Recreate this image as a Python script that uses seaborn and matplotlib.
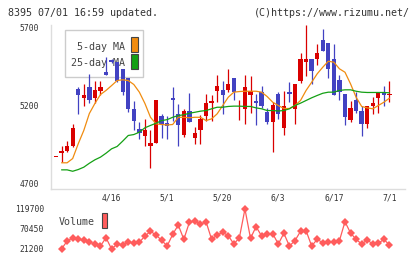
import numpy as np
import matplotlib
matplotlib.use("Agg")
import matplotlib.pyplot as plt
import seaborn as sns
from matplotlib.patches import Rectangle

sns.set_style("white")
plt.rcParams['font.family'] = ['DejaVu Sans Mono', 'DejaVu Sans']

# daily candles (index 0 = 4/2 ... 60 = 7/1)
opens = [4875, 4896, 4913, 4941, 5306, 5249, 5321, 5249, 5291, 5412,
         5491, 5480, 5434, 5376, 5179, 5049, 5003, 4939, 4960, 5134,
         5087, 5251, 5147, 5009, 5168, 4992, 5041, 5132, 5215, 5291,
         5296, 5302, 5376, 5232, 5179, 5270, 5226, 5289, 5158, 5094,
         5274, 5058, 5289, 5179, 5359, 5476, 5497, 5497, 5618, 5599,
         5497, 5364, 5274, 5109, 5238, 5168, 5083, 5194, 5247, 5289,
         5268]
highs = [4875, 4939, 4973, 5083, 5321, 5338, 5402, 5353, 5355, 5512,
         5497, 5480, 5434, 5376, 5227, 5098, 5115, 5041, 5238, 5147,
         5136, 5321, 5211, 5175, 5278, 5066, 5141, 5274, 5270, 5397,
         5359, 5434, 5376, 5238, 5397, 5391, 5274, 5327, 5183, 5221,
         5285, 5291, 5348, 5338, 5536, 5710, 5497, 5589, 5689, 5599,
         5589, 5397, 5274, 5226, 5289, 5200, 5200, 5257, 5289, 5327,
         5359]
lows = [4875, 4839, 4903, 4934, 5143, 5194, 5215, 5215, 5264, 5396,
        5468, 5348, 5264, 5157, 5041, 4988, 4939, 4801, 4960, 4992,
        4988, 5104, 4945, 5000, 5094, 4952, 4952, 5104, 5104, 5221,
        5143, 5289, 5232, 5109, 5083, 5151, 5077, 5185, 5083, 4903,
        5113, 5009, 5221, 5083, 5342, 5391, 5338, 5455, 5546, 5376,
        5264, 5232, 5077, 5094, 5151, 5004, 5058, 5147, 5151, 5194,
        5221]
closes = [4876, 4907, 4945, 5058, 5264, 5270, 5232, 5296, 5321, 5396,
          5476, 5359, 5285, 5179, 5104, 5026, 5047, 4964, 5238, 5079,
          5071, 5232, 5077, 5168, 5094, 5028, 5111, 5219, 5226, 5327,
          5264, 5338, 5285, 5238, 5321, 5291, 5215, 5200, 5094, 5206,
          5147, 5200, 5274, 5338, 5497, 5497, 5423, 5533, 5546, 5434,
          5264, 5285, 5126, 5185, 5164, 5083, 5200, 5219, 5289, 5264,
          5272]

ma5 = [np.nan, 4835, 4835, 4862, 4956, 5041, 5149, 5213, 5270, 5296,
       5327, 5359, 5364, 5359, 5334, 5285, 5213, 5125, 5083, 5079,
       5076, 5079, 5125, 5125, 5122, 5125, 5125, 5104, 5115, 5147,
       5200, 5253, 5285, 5289, 5291, 5291, 5291, 5285, 5257, 5221,
       5200, 5181, 5181, 5200, 5232, 5296, 5348, 5402, 5444, 5482,
       5476, 5434, 5412, 5338, 5253, 5194, 5185, 5179, 5200, 5221,
       5247]
ma25 = [np.nan, 4790, 4790, 4781, 4792, 4807, 4832, 4854, 4871, 4896,
        4924, 4939, 4973, 5009, 5015, 5030, 5058, 5073, 5087, 5104,
        5110, 5125, 5136, 5141, 5151, 5157, 5164, 5168, 5179, 5189,
        5189, 5194, 5196, 5196, 5194, 5194, 5185, 5179, 5168, 5168,
        5165, 5168, 5179, 5200, 5215, 5232, 5249, 5264, 5278, 5285,
        5285, 5296, 5300, 5300, 5291, 5285, 5283, 5283, 5283, 5283,
        5281]

volume = [np.nan, 21200, 40900, 48300, 45000, 43400, 38400, 33500, 28600, 49000,
          21200, 33500, 31000, 39200, 35200, 37600, 53200, 64800, 55700, 42600,
          28600, 57300, 80300, 45000, 86900, 90900, 82000, 88400, 45000, 55700,
          62300, 54000, 33500, 49000, 119700, 47500, 76200, 53200, 58100, 58900,
          33500, 59800, 28600, 41700, 64800, 66300, 28600, 45000, 36700, 38400,
          38400, 41700, 88400, 60600, 45000, 33500, 43400, 33500, 35200, 45000,
          31000]

date_pos = [10, 20, 30, 40, 50, 60]
date_labels = ["4/16", "5/1", "5/20", "6/3", "6/17", "7/1"]
price_ticks = [4700, 5200, 5700]
vol_ticks = [21200, 70450, 119700]

RED, BLUE = "#d90000", "#4242c2"
ORANGE, GREEN = "#f08c10", "#14a014"
VOLC = "#ff5c5c"
GRID = "#dddddd"
TXT = "#333333"

W, H = 420, 259
fig = plt.figure(figsize=(W / 100, H / 100), dpi=100)
L, R = 51, 405
ax = fig.add_axes([L / W, 1 - 189 / H, (R - L) / W, 164 / H])
axv = fig.add_axes([L / W, 1 - 253 / H, (R - L) / W, 48 / H])
for a in (ax, axv):
    a.set_facecolor("none")

x = np.arange(len(opens))
o, h, l, c = map(np.array, (opens, highs, lows, closes))
up = c >= o
colors = np.where(up, RED, BLUE)
body = np.maximum(np.abs(c - o), 6)
ax.vlines(x, l, h, colors=colors, linewidth=0.9, zorder=3)
ax.bar(x, body, bottom=np.minimum(o, c), width=0.78, color=colors,
       linewidth=0, zorder=4)

sns.lineplot(x=x, y=ma5, ax=ax, color=ORANGE, linewidth=0.9, zorder=5)
sns.lineplot(x=x, y=ma25, ax=ax, color=GREEN, linewidth=0.9, zorder=5)

xmin, xmax = -0.9, 62.8
ax.set_xlim(xmin, xmax)
ax.set_ylim(4668, 5713)
ax.set_yticks(price_ticks)
ax.set_yticklabels([str(t) for t in price_ticks], fontsize=5.8, color=TXT)
ax.set_xticks(date_pos)
ax.set_xticklabels(date_labels, fontsize=5.8, color=TXT)
ax.set_xticks(np.linspace(xmin, xmax, 12), minor=True)
ax.tick_params(axis="x", which="major", length=0, pad=3.5)
ax.tick_params(axis="x", which="minor", direction="in", length=5, color=GRID, width=1)
ax.tick_params(axis="y", direction="inout", length=5, color=GRID, width=1, pad=6)
sns.despine(ax=ax, top=True, right=True)
for s in ("left", "bottom"):
    ax.spines[s].set_color(GRID)
    ax.spines[s].set_linewidth(1)
ax.set_xlabel("")
ax.set_ylabel("")

# legend box under the candles
def axc(px, py):
    return ((px - L) / (R - L), (189 - py) / 164)

bx, by = axc(65, 77)
ax.add_patch(Rectangle((bx, by), 78 / 354, 47 / 164, transform=ax.transAxes,
                       facecolor="white", edgecolor="#cccccc", linewidth=1, zorder=1))
for label, col, ty, sy in [("5-day MA", ORANGE, 46.5, 52.3), ("25-day MA", GREEN, 63.3, 69.3)]:
    tx, tyy = axc(125, ty)
    ax.text(tx, tyy, label, transform=ax.transAxes, ha="right", va="center",
            fontsize=7.2, color="#444444", zorder=2)
    sx, syy = axc(130.7, sy)
    ax.add_patch(Rectangle((sx, syy), 7 / 354, 15 / 164, transform=ax.transAxes,
                           facecolor=col, edgecolor="#444444", linewidth=0.8, zorder=2))

# volume panel
sns.lineplot(x=x, y=volume, ax=axv, color=VOLC, linewidth=0.9, marker="D",
             markersize=4.2, markeredgewidth=0, markerfacecolor=VOLC)
axv.set_xlim(xmin, xmax)
axv.set_ylim(11350, 129550)
axv.set_yticks(vol_ticks)
axv.set_yticklabels([str(t) for t in vol_ticks], fontsize=5.8, color=TXT)
axv.set_xticks([])
axv.tick_params(axis="y", length=0, pad=5)
for s in axv.spines.values():
    s.set_visible(False)
axv.set_xlabel("")
axv.set_ylabel("")
axv.text((59 - L) / 354, (253 - 222) / 48, "Volume", transform=axv.transAxes,
         ha="left", va="center", fontsize=7.2, color="#444444")
axv.add_patch(Rectangle(((101.7 - L) / 354, (253 - 228.3) / 48), 5.6 / 354, 15.6 / 48,
                        transform=axv.transAxes, facecolor=VOLC, edgecolor="#444444",
                        linewidth=0.8))

fig.text(8 / W, 1 - 13 / H, "8395 07/01 16:59 updated.", ha="left", va="center",
         fontsize=7.2, color=TXT)
fig.text(410 / W, 1 - 13 / H, "(C)https://www.rizumu.net/", ha="right", va="center",
         fontsize=7.2, color=TXT)

fig.savefig("out.png", dpi=100)
